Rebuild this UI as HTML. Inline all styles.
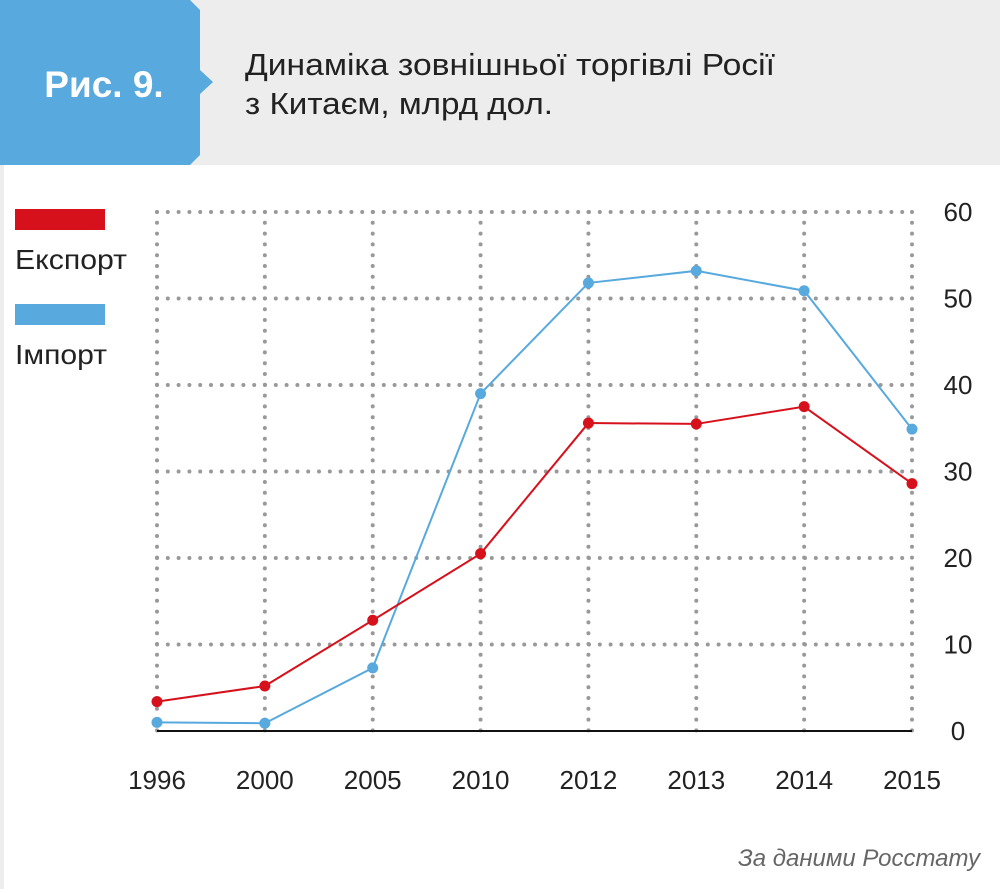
<!DOCTYPE html>
<html><head><meta charset="utf-8"><style>
body{margin:0;width:1000px;height:889px;overflow:hidden;background:#fff;font-family:"Liberation Sans",sans-serif}
</style></head><body>
<svg width="1000" height="889" viewBox="0 0 1000 889" xmlns="http://www.w3.org/2000/svg">
<rect x="0" y="0" width="1000" height="889" fill="#fff"/>
<rect x="0" y="0" width="1000" height="165" fill="#ededed"/>
<rect x="0" y="165" width="4" height="724" fill="#ededed"/>
<polygon points="0,0 190,0 200,10 200,70 213,82 200,94 200,155 190,165 0,165" fill="#57a9de"/>
<text x="104" y="97" text-anchor="middle" font-size="37" font-weight="bold" fill="#fff">Рис. 9.</text>
<text x="245" y="75" font-size="31" fill="#222" textLength="530" lengthAdjust="spacingAndGlyphs">Динаміка зовнішньої торгівлі Росії</text>
<text x="245" y="114" font-size="31" fill="#222" textLength="308" lengthAdjust="spacingAndGlyphs">з Китаєм, млрд дол.</text>
<rect x="15" y="209" width="90" height="21" fill="#d7111b"/>
<text x="15" y="269" font-size="28" fill="#222" textLength="112" lengthAdjust="spacingAndGlyphs">Експорт</text>
<rect x="15" y="304" width="90" height="21" fill="#57a9de"/>
<text x="15" y="364" font-size="28" fill="#222" textLength="92" lengthAdjust="spacingAndGlyphs">Імпорт</text>
<g id="plot"></g>
<text x="980" y="866" text-anchor="end" font-size="24" font-style="italic" fill="#666">За даними Росстату</text>
</svg>
<script>
const years=["1996","2000","2005","2010","2012","2013","2014","2015"];
const exportVals=[3.4,5.2,12.8,20.5,35.6,35.5,37.5,28.6];
const importVals=[1.0,0.9,7.3,39.0,51.8,53.2,50.9,34.9];
const yTicks=[0,10,20,30,40,50,60];
const NS="http://www.w3.org/2000/svg";
const g=document.getElementById('plot');
const x0=157,x1=912,yb=731,yt=212;
function xs(i){return x0+i*(x1-x0)/(years.length-1);}
function ys(v){return yb-v*(yb-yt)/60;}
function mk(t,a){const e=document.createElementNS(NS,t);for(const k in a)e.setAttribute(k,a[k]);g.appendChild(e);return e;}
yTicks.forEach(v=>{
 if(v>0){const l=mk('line',{x1:x0,x2:x1,y1:ys(v),y2:ys(v),stroke:'#999','stroke-width':4,'stroke-dasharray':'0 10.8','stroke-linecap':'round'});
 
 }
 const t=mk('text',{x:958,y:ys(v)+9,'text-anchor':'middle','font-size':26,fill:'#222'});t.textContent=v;
 
 
});
years.forEach((yr,i)=>{
 const l=mk('line',{x1:xs(i),x2:xs(i),y1:yt,y2:yb,stroke:'#999','stroke-width':4,'stroke-dasharray':'0 10.8','stroke-linecap':'round'});
 
 
 const t=mk('text',{x:xs(i),y:789,'text-anchor':'middle','font-size':26,fill:'#222'});t.textContent=yr;
 
 
});
const ax=mk('line',{x1:x0,x2:x1,y1:yb,y2:yb,stroke:'#111','stroke-width':2});


function series(vals,col,name){
 const p=mk('polyline',{points:vals.map((v,i)=>xs(i)+','+ys(v)).join(' '),fill:'none',stroke:col,'stroke-width':2});
 
 
 vals.forEach((v,i)=>{const c=mk('circle',{cx:xs(i),cy:ys(v),r:5.5,fill:col});
 
 });
}
series(importVals,'#57a9de','import');
series(exportVals,'#d7111b','export');
</script>
</body></html>
